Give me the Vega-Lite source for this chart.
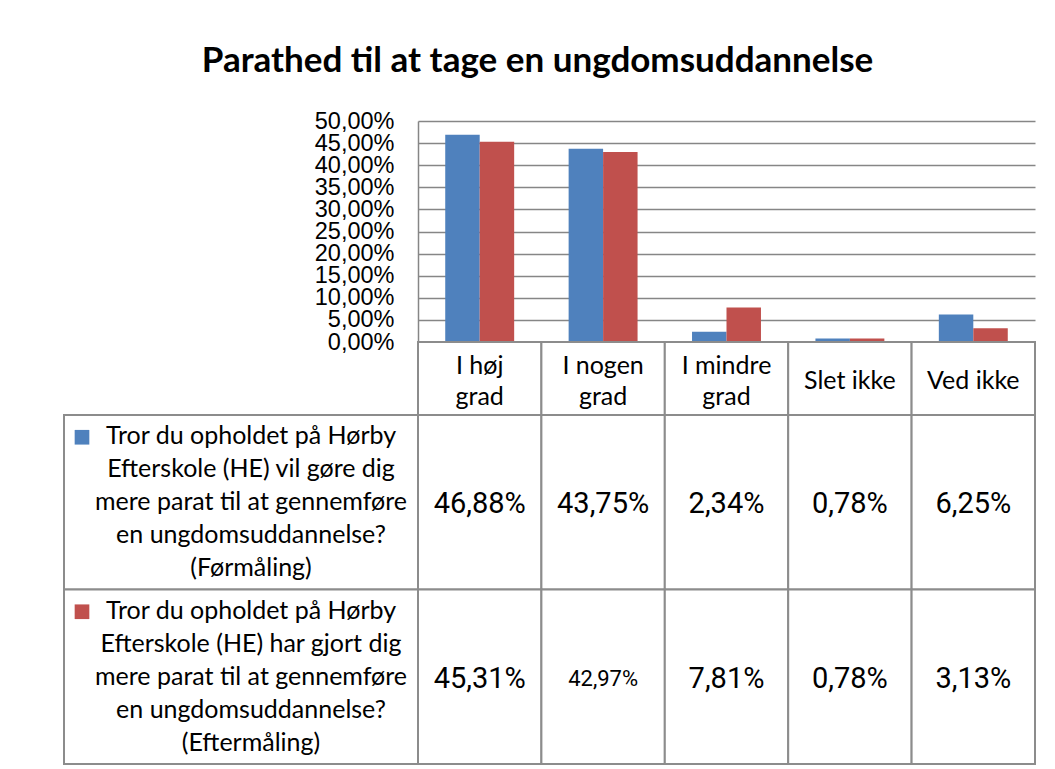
{
  "$schema": "https://vega.github.io/schema/vega-lite/v6.json",
  "padding": {"left": 63, "top": 44, "right": 10, "bottom": 2},
  "background": "white",
  "title": {"text": "Parathed til at tage en ungdomsuddannelse", "font": "Lato", "fontSize": 35, "fontWeight": "bold", "color": "black", "anchor": "middle", "dx": -12, "offset": 30},
  "datasets": {
    "vals": [
      {"category": "I høj grad", "series": "Førmåling", "value": 0.4688},
      {"category": "I nogen grad", "series": "Førmåling", "value": 0.4375},
      {"category": "I mindre grad", "series": "Førmåling", "value": 0.0234},
      {"category": "Slet ikke", "series": "Førmåling", "value": 0.0078},
      {"category": "Ved ikke", "series": "Førmåling", "value": 0.0625},
      {"category": "I høj grad", "series": "Eftermåling", "value": 0.4531},
      {"category": "I nogen grad", "series": "Eftermåling", "value": 0.4297},
      {"category": "I mindre grad", "series": "Eftermåling", "value": 0.0781},
      {"category": "Slet ikke", "series": "Eftermåling", "value": 0.0078},
      {"category": "Ved ikke", "series": "Eftermåling", "value": 0.0313}
    ],
    "cats": [
      {"category": "I høj grad", "label": "I høj\ngrad", "lines": 2},
      {"category": "I nogen grad", "label": "I nogen\ngrad", "lines": 2},
      {"category": "I mindre grad", "label": "I mindre\ngrad", "lines": 2},
      {"category": "Slet ikke", "label": "Slet ikke", "lines": 1},
      {"category": "Ved ikke", "label": "Ved ikke", "lines": 1}
    ],
    "ser": [
      {"series": "Førmåling", "label": "Tror du opholdet på Hørby\nEfterskole (HE) vil gøre dig\nmere parat til at gennemføre\nen ungdomsuddannelse?\n(Førmåling)"},
      {"series": "Eftermåling", "label": "Tror du opholdet på Hørby\nEfterskole (HE) har gjort dig\nmere parat til at gennemføre\nen ungdomsuddannelse?\n(Eftermåling)"}
    ]
  },
  "columns": 2,
  "spacing": 0,
  "bounds": "flush",
  "align": "each",
  "concat": [
    {
      "width": 354, "height": 221,
      "data": {"values": []},
      "mark": "point"
    },
    {
      "width": 617, "height": 221,
      "data": {"name": "vals"},
      "mark": {"type": "bar"},
      "encoding": {
        "x": {"field": "category", "type": "nominal", "sort": ["I høj grad", "I nogen grad", "I mindre grad", "Slet ikke", "Ved ikke"], "scale": {"paddingInner": 0, "paddingOuter": 0}, "axis": null},
        "xOffset": {"field": "series", "type": "nominal", "sort": ["Førmåling", "Eftermåling"], "scale": {"paddingInner": 0, "paddingOuter": 0.79}},
        "y": {"field": "value", "type": "quantitative", "scale": {"domain": [0, 0.5], "nice": false},
          "axis": {"values": [0, 0.05, 0.1, 0.15, 0.2, 0.25, 0.3, 0.35, 0.4, 0.45, 0.5], "format": ".2%", "title": null, "ticks": false, "labelPadding": 24, "labelFont": "Liberation Sans", "labelFontSize": 23.5, "labelColor": "black", "labelOverlap": false, "labelBound": false, "labelFlush": false, "domainColor": "#868686", "domainWidth": 1.5, "gridColor": "#868686", "gridWidth": 1.5}},
        "color": {"field": "series", "type": "nominal", "scale": {"domain": ["Førmåling", "Eftermåling"], "range": ["#4F81BD", "#C0504D"]}, "legend": null}
      }
    },
    {
      "width": 354, "height": 73,
      "data": {"values": []},
      "mark": "point"
    },
    {
      "width": 617, "height": 73,
      "data": {"name": "cats"},
      "encoding": {
        "x": {"field": "category", "type": "nominal", "sort": ["I høj grad", "I nogen grad", "I mindre grad", "Slet ikke", "Ved ikke"], "scale": {"paddingInner": 0, "paddingOuter": 0}, "axis": null}
      },
      "layer": [
        {"mark": {"type": "rect", "fill": "white", "stroke": "#8c8c8c", "strokeWidth": 2}},
        {"transform": [{"filter": "datum.lines == 2"}],
         "mark": {"type": "text", "font": "Lato", "fontSize": 25, "lineBreak": "\n", "lineHeight": 31, "color": "black", "baseline": "middle", "align": "center", "dy": -13},
         "encoding": {"text": {"field": "label"}}},
        {"transform": [{"filter": "datum.lines == 1"}],
         "mark": {"type": "text", "font": "Lato", "fontSize": 25, "color": "black", "baseline": "middle", "align": "center", "dy": 2},
         "encoding": {"text": {"field": "label"}}}
      ]
    },
    {
      "width": 354, "height": 349,
      "data": {"name": "ser"},
      "encoding": {
        "y": {"field": "series", "type": "nominal", "sort": ["Førmåling", "Eftermåling"], "scale": {"paddingInner": 0, "paddingOuter": 0}, "axis": null}
      },
      "layer": [
        {"mark": {"type": "rect", "fill": "white", "stroke": "#8c8c8c", "strokeWidth": 2}},
        {"mark": {"type": "point", "shape": "square", "filled": true, "size": 215, "opacity": 1, "xOffset": -159, "yOffset": -65},
         "encoding": {"color": {"field": "series", "type": "nominal", "scale": {"domain": ["Førmåling", "Eftermåling"], "range": ["#4F81BD", "#C0504D"]}, "legend": null}}},
        {"mark": {"type": "text", "font": "Lato", "fontSize": 25, "lineBreak": "\n", "lineHeight": 33, "color": "black", "baseline": "middle", "align": "center", "dx": 10, "dy": -66},
         "encoding": {"text": {"field": "label"}}}
      ]
    },
    {
      "width": 617, "height": 349,
      "data": {"name": "vals"},
      "encoding": {
        "x": {"field": "category", "type": "nominal", "sort": ["I høj grad", "I nogen grad", "I mindre grad", "Slet ikke", "Ved ikke"], "scale": {"paddingInner": 0, "paddingOuter": 0}, "axis": null},
        "y": {"field": "series", "type": "nominal", "sort": ["Førmåling", "Eftermåling"], "scale": {"paddingInner": 0, "paddingOuter": 0}, "axis": null}
      },
      "layer": [
        {"mark": {"type": "rect", "fill": "white", "stroke": "#8c8c8c", "strokeWidth": 2}},
        {"mark": {"type": "text", "font": "Roboto", "color": "black", "baseline": "middle", "align": "center", "dy": 2},
         "encoding": {
           "text": {"field": "value", "type": "quantitative", "format": ".2%"},
           "size": {"condition": {"test": "datum.value === 0.4297", "value": 22}, "value": 29}
         }}
      ]
    }
  ],
  "config": {
    "view": {"stroke": null},
    "locale": {"number": {"decimal": ",", "thousands": ".", "grouping": [3], "currency": ["", " kr."]}}
  }
}
